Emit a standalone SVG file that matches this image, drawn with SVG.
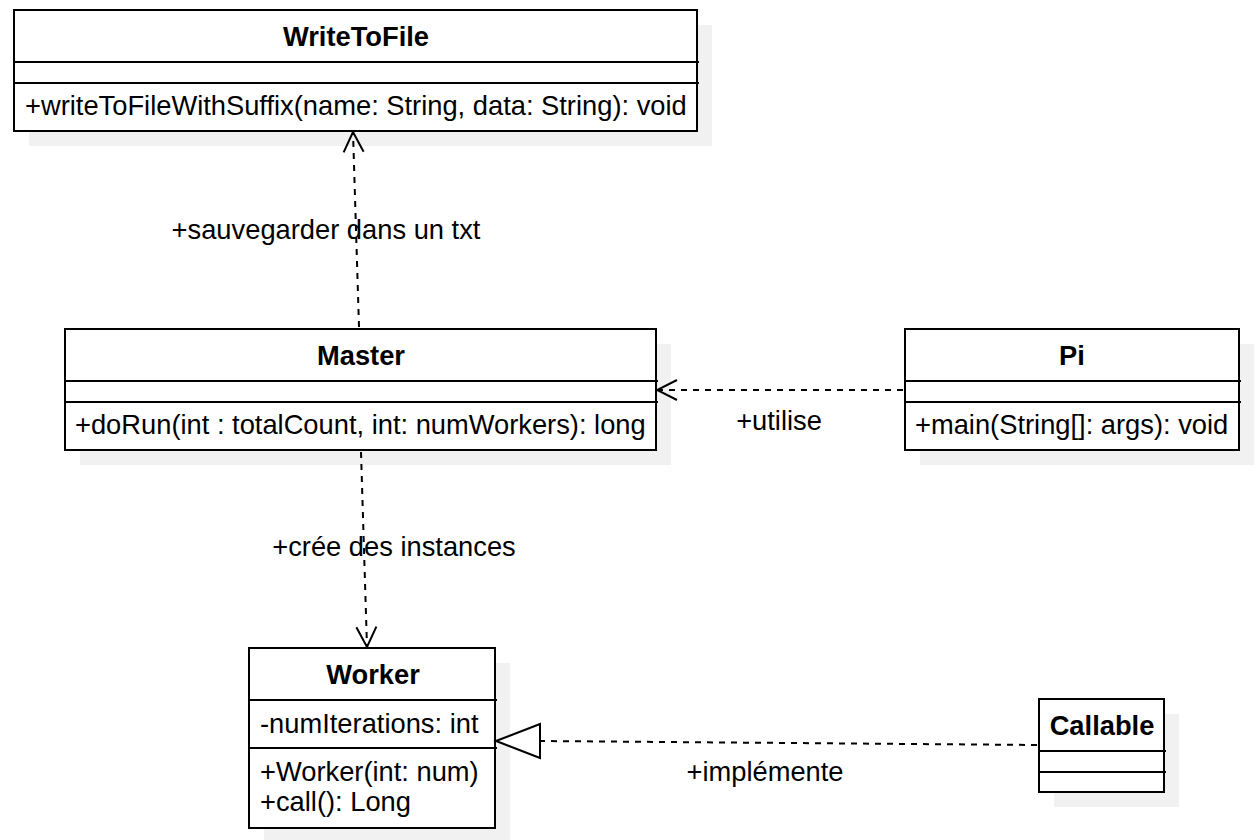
<svg xmlns="http://www.w3.org/2000/svg" width="1260" height="840" viewBox="0 0 1260 840">
<defs>
<style>
.sh{fill:#f1f1f1;stroke:none}
.box{fill:#ffffff;stroke:#000;stroke-width:2}
.ln{stroke:#000;stroke-width:2;fill:none}
.t{font-family:"Liberation Sans",Arial,sans-serif;font-size:27.3px;fill:#000}
.b{font-weight:bold;text-anchor:middle}
.c{text-anchor:middle}
.dash{stroke:#000;stroke-width:2;fill:none;stroke-dasharray:6 6}
</style>
<marker id="open" viewBox="0 0 24 24" markerWidth="24" markerHeight="24" refX="22" refY="12" orient="auto" markerUnits="userSpaceOnUse">
<path d="M2,2 L22,12 L2,22" fill="none" stroke="#000" stroke-width="2"/>
</marker>
</defs>
<rect width="1260" height="840" fill="#fff"/>

<g id="WriteToFile">
<rect class="sh" x="29" y="25" width="683" height="121"/>
<rect class="box" x="14" y="10" width="683" height="121"/>
<line class="ln" x1="14" y1="62" x2="699" y2="62"/>
<line class="ln" x1="14" y1="83" x2="699" y2="83"/>
<text class="t b" x="356" y="46">WriteToFile</text>
<text class="t" x="25" y="115">+writeToFileWithSuffix(name: String, data: String): void</text>
</g>

<g id="Master">
<rect class="sh" x="80" y="344" width="591" height="121"/>
<rect class="box" x="65" y="329" width="591" height="121"/>
<line class="ln" x1="65" y1="381" x2="658" y2="381"/>
<line class="ln" x1="65" y1="402" x2="658" y2="402"/>
<text class="t b" x="361" y="365">Master</text>
<text class="t" x="75" y="434">+doRun(int : totalCount, int: numWorkers): long</text>
</g>

<g id="Pi">
<rect class="sh" x="920" y="344" width="334" height="121"/>
<rect class="box" x="905" y="329" width="334" height="121"/>
<line class="ln" x1="905" y1="381" x2="1241" y2="381"/>
<line class="ln" x1="905" y1="402" x2="1241" y2="402"/>
<text class="t b" x="1072" y="365">Pi</text>
<text class="t" x="915" y="434">+main(String[]: args): void</text>
</g>

<g id="Worker">
<rect class="sh" x="264" y="663" width="246" height="177"/>
<rect class="box" x="249" y="648" width="246" height="180"/>
<line class="ln" x1="249" y1="700" x2="497" y2="700"/>
<line class="ln" x1="249" y1="748" x2="497" y2="748"/>
<text class="t b" x="373" y="684">Worker</text>
<text class="t" x="260" y="733">-numIterations: int</text>
<text class="t" x="260" y="781">+Worker(int: num)</text>
<text class="t" x="260" y="811">+call(): Long</text>
</g>

<g id="Callable">
<rect class="sh" x="1054" y="714" width="125" height="93"/>
<rect class="box" x="1039" y="699" width="125" height="93"/>
<line class="ln" x1="1039" y1="751" x2="1166" y2="751"/>
<line class="ln" x1="1039" y1="772" x2="1166" y2="772"/>
<text class="t b" x="1102" y="735">Callable</text>
</g>

<g id="connectors">
<path class="dash" d="M359,327 L353,132" marker-end="url(#open)"/>
<text class="t c" x="326" y="239">+sauvegarder dans un txt</text>
<path class="dash" d="M903,390 L657,390" marker-end="url(#open)"/>
<text class="t c" x="779" y="430">+utilise</text>
<path class="dash" d="M361,452 L367,647" marker-end="url(#open)"/>
<text class="t c" x="394" y="556">+crée des instances</text>
<path class="dash" d="M1037,745 L541,741"/>
<path d="M496,741 L540,724 L540,758 Z" fill="#fff" stroke="#000" stroke-width="2"/>
<text class="t c" x="765" y="781">+implémente</text>
</g>
</svg>
